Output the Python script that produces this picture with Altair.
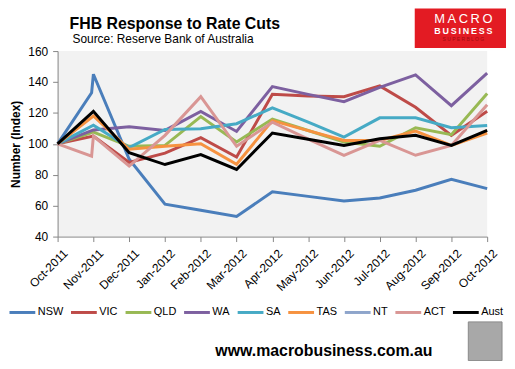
import altair as alt
import pandas as pd

months = ["Oct-2011", "Nov-2011", "Dec-2011", "Jan-2012", "Feb-2012", "Mar-2012",
          "Apr-2012", "May-2012", "Jun-2012", "Jul-2012", "Aug-2012", "Sep-2012", "Oct-2012"]

series_names = ["NSW", "VIC", "QLD", "WA", "SA", "TAS", "NT", "ACT", "Aust"]
series_colors = ["#4A7EBB", "#BE4B48", "#98B954", "#7D60A0", "#46AAC5",
                 "#F69240", "#8EA5CB", "#D99694", "#000000"]

NSW = [100, 145, 90, 61, 57, 53, 69, 66, 63, 65, 70, 77, 71]
VIC = [100, 105, 88, 94, 104, 91.5, 132, 131, 130.5, 137.5, 123.6, 105.5, 121]
QLD = [100, 107.6, 98.4, 99, 117.6, 101.2, 116, 108.6, 101.2, 98.4, 110.4, 105.9, 132.6]
WA = [100, 109, 111, 108.7, 121, 108, 137, 132, 127.3, 136.5, 144.6, 124.7, 145.7]
SA = [100, 112, 97.6, 109.3, 109.7, 113, 123.2, 114, 104.4, 116.8, 116.8, 110.4, 111.9]
TAS = [100, 118, 96.5, 98.4, 100.1, 86.8, 115, 108.5, 102.2, 102.2, 108.2, 99, 107]
NT = [None] * 13
ACT = [100, 105, 85.6, 105.5, 130.5, 98.4, 114, 103, 92.6, 102.2, 92.6, 99, 125.3]
Aust = [100, 121, 94.3, 86.6, 93, 83.4, 107, 103, 99, 103.3, 105.5, 99, 108.7]

# extra late-October readings visible as kinks just before Nov-2011
kink_series = ["NSW", "ACT"]
kink_pos = [0.95, 0.95]
kink_vals = [133, 92]

values = {"NSW": NSW, "VIC": VIC, "QLD": QLD, "WA": WA, "SA": SA, "TAS": TAS,
          "NT": NT, "ACT": ACT, "Aust": Aust}

rows = []
for s in series_names:
    for i, v in enumerate(values[s]):
        if v is not None:
            rows.append({"series": s, "idx": i, "value": v})
for s, p, v in zip(kink_series, kink_pos, kink_vals):
    rows.append({"series": s, "idx": p, "value": v})
df = pd.DataFrame(rows)

FONT = "Liberation Sans"
label_expr = "[" + ",".join("'%s'" % m for m in months) + "][datum.value]"

color_scale = alt.Scale(domain=series_names, range=series_colors)
x_enc = alt.X("idx:Q", scale=alt.Scale(domain=[0, 12], nice=False, zero=False),
              axis=alt.Axis(values=list(range(13)), labelExpr=label_expr, labelAngle=-45,
                            labelOverlap=False, labelBound=False, labelOffset=4,
                            title=None, tickSize=5, labelPadding=6, labelFontSize=12,
                            labelFont=FONT))
y_enc = alt.Y("value:Q", scale=alt.Scale(domain=[40, 160], nice=False, zero=False),
              axis=alt.Axis(values=[40, 60, 80, 100, 120, 140, 160], title="Number (Index)",
                            titleFont=FONT, titleFontSize=12, titleFontWeight="bold",
                            titlePadding=5, tickSize=5, labelPadding=5, labelFontSize=12,
                            labelFont=FONT))

layers = []
for s in series_names:
    layers.append(
        alt.Chart(df).transform_filter(alt.datum.series == s)
        .mark_line(strokeWidth=3, strokeJoin="miter")
        .encode(x=x_enc, y=y_enc,
                color=alt.Color("series:N", scale=color_scale, title=None,
                                legend=alt.Legend(orient="none", legendX=-50, legendY=249,
                                                  direction="horizontal", symbolType="stroke",
                                                  symbolSize=676, symbolStrokeWidth=3,
                                                  labelFontSize=11, labelFont=FONT,
                                                  labelOffset=1, columnPadding=1,
                                                  gridAlign="none",
                                                  values=series_names)))
    )

one = pd.DataFrame({"k": [0]})

def txt(text, x, y, size, weight="normal", color="black", align="left", font=FONT):
    return alt.Chart(one).mark_text(align=align, baseline="alphabetic", fontSize=size,
                                    fontWeight=weight, color=color, font=font).encode(
        x=alt.value(x), y=alt.value(y), text=alt.value(text))

logo_rect = alt.Chart(one).mark_rect(color="#E31B23").encode(
    x=alt.value(360), x2=alt.value(452), y=alt.value(-43), y2=alt.value(-3))
wolf = alt.Chart(one).mark_rect(color="#A8A8A8", stroke="#8A8A8A", strokeWidth=1).encode(
    x=alt.value(414), x2=alt.value(448), y=alt.value(273), y2=alt.value(312))

layers += [
    txt("FHB Response to Rate Cuts", 12, -22, 16, "bold"),
    txt("Source: Reserve Bank of Australia", 15, -8, 12),
    logo_rect,
    txt("M\u2009A\u2009C\u2009R\u2009O", 409, -28, 13, color="white", align="center"),
    txt("B\u2009U\u2009S\u2009I\u2009N\u2009E\u2009S\u2009S", 409, -17, 9, "bold",
        color="white", align="center"),
    txt("S U P E R B L O G", 409, -10, 5, color="#9E0C12", align="center"),
    wolf,
    txt("www.macrobusiness.com.au", 159, 307, 16, "bold"),
]

chart = alt.layer(*layers).properties(
    width=433, height=187,
    autosize=alt.AutoSizeParams(type="none"),
    padding={"left": 50, "top": 42, "right": 20, "bottom": 124},
).configure_view(fill="#F2F2F2", stroke=None).configure_axis(
    grid=False, domainColor="#868686", tickColor="#868686", labelColor="black",
    titleColor="black", domainWidth=1
)

chart.save("out.html", embed_options={"renderer": "svg", "actions": False})
